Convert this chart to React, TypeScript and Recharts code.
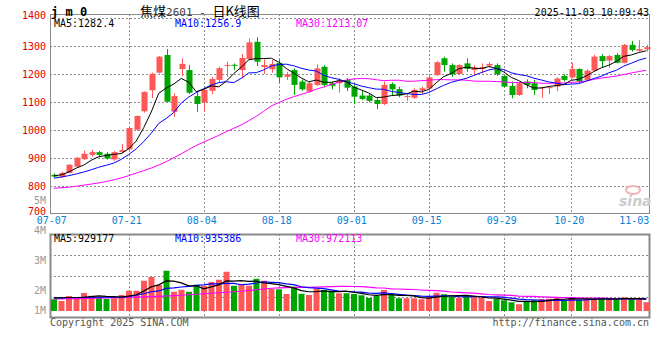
import { ComposedChart, Bar, Line, XAxis, YAxis, Cell } from 'recharts';

// 焦煤2601 daily K line, 2025-07-07 .. 2025-11-03

const dates = [
  '07-07', '07-08', '07-09', '07-10', '07-11', '07-14', '07-15', '07-16', '07-17', '07-18',
  '07-21', '07-22', '07-23', '07-24', '07-25', '07-28', '07-29', '07-30', '07-31', '08-01',
  '08-04', '08-05', '08-06', '08-07', '08-08', '08-11', '08-12', '08-13', '08-14', '08-15',
  '08-18', '08-19', '08-20', '08-21', '08-22', '08-25', '08-26', '08-27', '08-28', '08-29',
  '09-01', '09-02', '09-03', '09-04', '09-05', '09-08', '09-09', '09-10', '09-11', '09-12',
  '09-15', '09-16', '09-17', '09-18', '09-19', '09-22', '09-23', '09-24', '09-25', '09-26',
  '09-29', '09-30', '10-09', '10-10', '10-13', '10-14', '10-15', '10-16', '10-17', '10-20',
  '10-21', '10-22', '10-23', '10-24', '10-27', '10-28', '10-29', '10-30', '10-31', '11-03',
];

const open = [
  840, 833, 847, 869, 896, 911, 921, 915, 895, 921,
  931, 1001, 1067, 1142, 1205, 1268, 1065, 1218, 1214, 1121,
  1099, 1140, 1179, 1229, 1233, 1214, 1253, 1315, 1225, 1217,
  1240, 1190, 1214, 1173, 1137, 1161, 1226, 1167, 1167, 1179,
  1155, 1123, 1123, 1107, 1093, 1164, 1146, 1118, 1115, 1141,
  1148, 1196, 1256, 1232, 1200, 1238, 1214, 1218, 1230, 1232,
  1193, 1157, 1125, 1173, 1167, 1150, 1151, 1155, 1193, 1188,
  1218, 1179, 1212, 1264, 1248, 1268, 1240, 1304, 1283, 1288,
];

const high = [
  845, 851, 879, 903, 926, 929, 925, 921, 925, 950,
  1010, 1052, 1138, 1205, 1264, 1289, 1131, 1256, 1232, 1139,
  1147, 1190, 1226, 1244, 1238, 1271, 1327, 1331, 1252, 1250,
  1252, 1208, 1220, 1180, 1172, 1234, 1232, 1172, 1184, 1185,
  1163, 1139, 1131, 1113, 1173, 1170, 1155, 1133, 1149, 1155,
  1199, 1246, 1262, 1238, 1235, 1256, 1232, 1238, 1242, 1238,
  1196, 1173, 1170, 1181, 1179, 1155, 1155, 1188, 1199, 1240,
  1220, 1217, 1268, 1271, 1268, 1274, 1307, 1318, 1321, 1304,
];

const low = [
  831, 829, 845, 867, 893, 905, 902, 894, 890, 916,
  929, 998, 1062, 1114, 1202, 1100, 1047, 1193, 1128, 1065,
  1065, 1128, 1172, 1190, 1214, 1184, 1250, 1228, 1200, 1205,
  1169, 1178, 1125, 1140, 1133, 1157, 1152, 1145, 1133, 1139,
  1092, 1107, 1099, 1074, 1089, 1125, 1117, 1104, 1111, 1127,
  1145, 1193, 1208, 1190, 1196, 1208, 1196, 1202, 1223, 1193,
  1152, 1113, 1122, 1149, 1125, 1115, 1128, 1139, 1173, 1184,
  1167, 1176, 1208, 1222, 1222, 1238, 1238, 1280, 1280, 1280,
];

const close = [
  834, 847, 876, 901, 915, 921, 911, 898, 921, 928,
  1007, 1050, 1136, 1201, 1262, 1101, 1121, 1236, 1133, 1093,
  1143, 1182, 1221, 1232, 1230, 1257, 1313, 1244, 1232, 1236,
  1188, 1199, 1161, 1145, 1167, 1220, 1161, 1158, 1176, 1151,
  1119, 1111, 1104, 1093, 1161, 1145, 1123, 1121, 1143, 1149,
  1188, 1242, 1232, 1199, 1232, 1218, 1223, 1225, 1236, 1199,
  1155, 1125, 1167, 1161, 1143, 1153, 1153, 1184, 1179, 1218,
  1173, 1212, 1262, 1246, 1264, 1240, 1304, 1286, 1289, 1296,
];

const ma5 = [
  836, 840, 850, 864, 874.6, 892.0, 904.8, 909.2, 913.2, 915.8,
  933.0, 960.8, 1008.4, 1064.4, 1131.2, 1150.0, 1164.2, 1184.2, 1170.6, 1136.8,
  1145.2, 1157.4, 1154.4, 1174.2, 1201.6, 1224.4, 1250.6, 1255.2, 1255.2, 1256.4,
  1242.6, 1219.8, 1203.2, 1185.8, 1172.0, 1178.4, 1170.8, 1170.2, 1176.4, 1173.2,
  1153.0, 1143.0, 1132.2, 1115.6, 1117.6, 1122.8, 1125.2, 1128.6, 1138.6, 1136.2,
  1144.8, 1168.6, 1190.8, 1202.0, 1218.6, 1224.6, 1220.8, 1219.4, 1226.8, 1220.2,
  1207.6, 1188.0, 1176.4, 1161.4, 1150.2, 1149.8, 1155.4, 1158.8, 1162.4, 1177.4,
  1181.4, 1193.2, 1208.8, 1222.2, 1231.4, 1244.8, 1263.2, 1268.0, 1276.6, 1283.0,
];

const ma10 = [
  828, 832, 837, 843, 850, 858, 867, 874, 882, 895.2,
  912.5, 932.8, 958.8, 988.8, 1023.5, 1041.5, 1062.5, 1096.3, 1117.5, 1134.0,
  1147.6, 1160.8, 1169.3, 1172.4, 1169.2, 1184.8, 1204.0, 1204.8, 1214.7, 1229.0,
  1233.5, 1235.2, 1229.2, 1220.5, 1214.2, 1210.5, 1195.3, 1186.7, 1181.1, 1172.6,
  1165.7, 1156.9, 1151.2, 1146.0, 1145.4, 1137.9, 1134.1, 1130.4, 1127.1, 1126.9,
  1133.8, 1146.9, 1159.7, 1170.3, 1177.4, 1184.7, 1194.7, 1205.1, 1214.4, 1219.4,
  1216.1, 1204.4, 1197.9, 1194.1, 1185.2, 1178.7, 1171.7, 1167.6, 1161.9, 1163.8,
  1165.6, 1174.3, 1183.8, 1192.3, 1204.4, 1213.1, 1228.2, 1238.4, 1249.4, 1257.2,
];

const ma30 = [
  792, 794, 796, 799, 803, 807, 811, 816, 822, 829,
  837, 846, 855, 864, 875, 887, 901, 915, 930, 945,
  957, 969, 981, 994, 1006, 1018, 1033, 1049, 1067, 1086.1,
  1097.9, 1109.6, 1119.1, 1127.2, 1135.6, 1145.6, 1153.9, 1162.6, 1171.1, 1178.5,
  1182.3, 1184.3, 1183.2, 1179.6, 1176.3, 1177.7, 1177.8, 1174.0, 1174.3, 1176.2,
  1177.7, 1179.7, 1180.0, 1178.9, 1179.0, 1177.7, 1174.7, 1174.1, 1174.2, 1173.0,
  1171.9, 1169.4, 1169.6, 1170.1, 1169.3, 1167.1, 1166.8, 1167.7, 1167.8, 1170.0,
  1171.8, 1175.2, 1180.5, 1185.6, 1189.0, 1192.2, 1198.2, 1203.7, 1208.6, 1213.5,
];

// volume, millions of lots
const volume = [
  0.94, 0.80, 1.20, 1.12, 1.44, 1.22, 1.10, 0.96, 1.02, 1.28,
  1.62, 1.62, 2.42, 2.72, 2.08, 3.22, 1.54, 1.70, 1.54, 2.10,
  2.00, 2.32, 2.50, 3.14, 2.02, 2.16, 2.02, 2.58, 2.42, 1.76,
  1.74, 1.36, 1.94, 1.38, 1.28, 1.78, 1.68, 1.62, 1.42, 1.42,
  1.36, 1.26, 1.04, 1.20, 1.68, 1.34, 1.02, 1.02, 1.02, 0.94,
  1.14, 1.46, 1.34, 1.14, 1.06, 1.28, 1.10, 1.04, 0.80, 0.96,
  0.86, 0.70, 0.54, 0.80, 0.86, 0.96, 0.98, 1.02, 0.88, 1.10,
  0.88, 0.94, 0.96, 1.02, 0.94, 0.90, 1.10, 1.02, 1.02, 0.70,
];

const vma5 = [
  1.05, 1.05, 1.08, 1.08, 1.10, 1.156, 1.216, 1.168, 1.148, 1.116,
  1.196, 1.30, 1.592, 1.932, 2.092, 2.412, 2.396, 2.252, 2.016, 2.02,
  1.776, 1.932, 2.092, 2.412, 2.396, 2.428, 2.368, 2.384, 2.24, 2.188,
  2.104, 1.972, 1.844, 1.636, 1.54, 1.548, 1.612, 1.548, 1.556, 1.584,
  1.50, 1.416, 1.30, 1.256, 1.308, 1.304, 1.256, 1.252, 1.216, 1.068,
  1.028, 1.116, 1.18, 1.204, 1.228, 1.256, 1.184, 1.124, 1.056, 1.036,
  0.952, 0.872, 0.772, 0.772, 0.752, 0.772, 0.828, 0.924, 0.94, 0.988,
  0.972, 0.964, 0.952, 0.98, 0.948, 0.952, 0.984, 0.996, 0.996, 0.948,
];

const vma10 = [
  1.05, 1.06, 1.07, 1.08, 1.09, 1.10, 1.10, 1.10, 1.10, 1.108,
  1.176, 1.258, 1.38, 1.54, 1.604, 1.804, 1.848, 1.922, 1.974, 2.056,
  2.094, 2.164, 2.172, 2.214, 2.208, 2.102, 2.15, 2.238, 2.326, 2.292,
  2.266, 2.17, 2.114, 1.938, 1.864, 1.826, 1.792, 1.696, 1.596, 1.562,
  1.524, 1.514, 1.424, 1.406, 1.446, 1.402, 1.336, 1.276, 1.236, 1.188,
  1.166, 1.186, 1.216, 1.21, 1.148, 1.142, 1.15, 1.152, 1.13, 1.132,
  1.104, 1.028, 0.948, 0.914, 0.894, 0.862, 0.85, 0.848, 0.856, 0.87,
  0.872, 0.896, 0.938, 0.96, 0.968, 0.962, 0.974, 0.974, 0.988, 0.948,
];

const vma30 = [
  0.96, 0.97, 0.98, 0.99, 1.00, 1.01, 1.03, 1.04, 1.06, 1.07,
  1.09, 1.11, 1.13, 1.15, 1.17, 1.20, 1.23, 1.26, 1.30, 1.34,
  1.38, 1.42, 1.46, 1.50, 1.54, 1.58, 1.64, 1.70, 1.76, 1.819,
  1.845, 1.864, 1.889, 1.897, 1.892, 1.911, 1.93, 1.952, 1.965, 1.97,
  1.961, 1.949, 1.903, 1.853, 1.839, 1.777, 1.759, 1.737, 1.719, 1.681,
  1.652, 1.623, 1.585, 1.518, 1.486, 1.457, 1.426, 1.375, 1.321, 1.294,
  1.265, 1.243, 1.196, 1.177, 1.163, 1.135, 1.112, 1.092, 1.074, 1.063,
  1.047, 1.037, 1.034, 1.028, 1.003, 0.989, 0.991, 0.991, 0.991, 0.983,
];

const dateTicks = ['07-07', '07-21', '08-04', '08-18', '09-01', '09-15', '09-29', '10-20', '11-03'];
const gridDates = ['07-21', '08-04', '08-18', '09-01', '09-15', '09-29', '10-20'];
const priceTicks = [700, 800, 900, 1000, 1100, 1200, 1300, 1400];
const volumeGrid = [1.12, 2.8, 4.48];
const priceLegend = [
  { text: 'MA5:1282.4', color: '#000000' },
  { text: 'MA10:1256.9', color: '#0000ff' },
  { text: 'MA30:1213.07', color: '#ff00ff' },
];
const volumeLegend = [
  { text: 'MA5:929177', color: '#000000' },
  { text: 'MA10:935386', color: '#0000ff' },
  { text: 'MA30:972113', color: '#ff00ff' },
];
const volumeLabels = ['4M', '3M', '2M', '1M'];

const RED = '#ff5656';
const GREEN = '#00a600';
const GRID = '#8e8e8e';
const BORDER = '#8a8a8a';
const MONO = '"DejaVu Sans Mono", monospace';

// panel frames (page pixels) shared by the charts and the grid layer
const LEFT = 50;
const RIGHT = 650;
const P_TOP = 14;
const P_BOTTOM = 214;
const V_TOP = 234;
const V_BOTTOM = 318;
const PRICE_DOMAIN = [700, 1414.3];
const VOL_DOMAIN = [-0.56, 6.16];

const rows = dates.map((d, i) => ({
  d,
  o: open[i],
  h: high[i],
  l: low[i],
  c: close[i],
  range: [low[i], high[i]],
  ma5: ma5[i],
  ma10: ma10[i],
  ma30: ma30[i],
  v: volume[i],
  vma5: vma5[i],
  vma10: vma10[i],
  vma30: vma30[i],
}));

// band centre of a category, same as the band scale of the x axis
const bandX = (d: string) => LEFT + (dates.indexOf(d) + 0.5) * (RIGHT - LEFT) / dates.length;
const valY = (v: number, dom: number[], top: number, bottom: number) =>
  top + (dom[1] - v) / (dom[1] - dom[0]) * (bottom - top);
const crisp = (n: number) => Math.round(n) + 0.5;

function Candle(props: any) {
  const { x, y, width, height, payload } = props;
  if (x == null || y == null) return null;
  const { o, h, l, c } = payload;
  const top = Math.min(y, y + height);
  const bot = Math.max(y, y + height);
  const k = h > l ? (bot - top) / (h - l) : 0;
  const py = (v: number) => top + (h - v) * k;
  const color = c >= o ? RED : GREEN;
  const mid = Math.round(x + width / 2);
  const bTop = py(Math.max(o, c));
  const bBot = py(Math.min(o, c));
  return (
    <g>
      <line x1={mid + 0.5} x2={mid + 0.5} y1={top} y2={bot} stroke={color} strokeWidth={1} />
      <rect x={mid - 2.5} y={bTop} width={6} height={Math.max(1, bBot - bTop)} fill={color} />
    </g>
  );
}

function DateTick(props: any) {
  const { x, y, payload } = props;
  const last = payload.value === dateTicks[dateTicks.length - 1];
  return (
    <text x={last ? x + 3 : x - 2} y={y} dy="0.71em" textAnchor={last ? 'end' : 'middle'}
      fill="#0a80d2" fontSize={10} fontFamily={MONO}>
      {payload.value}
    </text>
  );
}

function PriceTick(props: any) {
  const { x, y, payload } = props;
  const edge = payload.value === 700 || payload.value === 1400;
  return (
    <text x={x} y={y} dy={edge ? '0.05em' : '0.355em'} textAnchor="end"
      fill="#e00000" fontSize={10} fontFamily={MONO}>
      {payload.value}
    </text>
  );
}

// dotted grid and panel frames, drawn behind the charts
function GridLayer() {
  const dots = { stroke: GRID, strokeWidth: 1, strokeDasharray: '2 2' };
  return (
    <svg width={660} height={360} style={{ position: 'absolute', left: 0, top: 0, pointerEvents: 'none' }}>
      {priceTicks.filter((t) => t > PRICE_DOMAIN[0]).map((t) => {
        const y = crisp(valY(t, PRICE_DOMAIN, P_TOP, P_BOTTOM));
        return <line key={'p' + t} x1={LEFT} x2={RIGHT} y1={y} y2={y} {...dots} />;
      })}
      {volumeGrid.map((t) => {
        const y = crisp(valY(t, VOL_DOMAIN, V_TOP, V_BOTTOM));
        return <line key={'v' + t} x1={LEFT} x2={RIGHT} y1={y} y2={y} {...dots} />;
      })}
      {gridDates.map((d) => {
        const x = crisp(bandX(d));
        return (
          <g key={d}>
            <line x1={x} x2={x} y1={P_TOP} y2={P_BOTTOM} {...dots} />
            <line x1={x} x2={x} y1={V_TOP} y2={V_BOTTOM} {...dots} />
          </g>
        );
      })}
      <rect x={LEFT + 0.5} y={P_TOP + 0.5} width={RIGHT - LEFT - 1} height={P_BOTTOM - P_TOP - 1}
        fill="none" stroke={BORDER} strokeWidth={1} />
      <rect x={LEFT + 0.5} y={V_TOP + 0.5} width={RIGHT - LEFT - 1} height={V_BOTTOM - V_TOP - 1}
        fill="none" stroke={BORDER} strokeWidth={2} />
    </svg>
  );
}

export default function App() {
  return (
    <div style={{ position: 'relative', width: 660, height: 360, background: '#fff' }}>
      <style>{'body{margin:0}'}</style>

      <GridLayer />

      <div style={{ position: 'absolute', left: 0, top: 0 }}>
        <ComposedChart width={660} height={P_BOTTOM + 18} data={rows}
          margin={{ top: P_TOP, right: 660 - RIGHT, bottom: 0, left: 0 }}>
          <XAxis dataKey="d" ticks={dateTicks} interval={0} height={18} tickSize={0} tickMargin={3}
            axisLine={false} tickLine={false} tick={<DateTick />} />
          <YAxis domain={PRICE_DOMAIN} ticks={priceTicks} width={LEFT} tickSize={0}
            tickMargin={4} axisLine={false} tickLine={false} tick={<PriceTick />} />
          <Bar dataKey="range" barSize={6} shape={<Candle />} isAnimationActive={false} />
          <Line type="linear" dataKey="ma30" stroke="#ff00ff" strokeWidth={1} dot={false} activeDot={false} isAnimationActive={false} />
          <Line type="linear" dataKey="ma10" stroke="#0000ff" strokeWidth={1} dot={false} activeDot={false} isAnimationActive={false} />
          <Line type="linear" dataKey="ma5" stroke="#000000" strokeWidth={1} dot={false} activeDot={false} isAnimationActive={false} />
        </ComposedChart>
      </div>

      <div style={{ position: 'absolute', left: 0, top: V_TOP - 8 }}>
        <ComposedChart width={660} height={V_BOTTOM - V_TOP + 8} data={rows}
          margin={{ top: 8, right: 660 - RIGHT, bottom: 0, left: LEFT }}>
          <XAxis dataKey="d" hide />
          <YAxis domain={VOL_DOMAIN} hide />
          <Bar dataKey="v" barSize={6} isAnimationActive={false}>
            {rows.map((r) => (
              <Cell key={r.d} fill={r.c >= r.o ? RED : GREEN} />
            ))}
          </Bar>
          <Line type="linear" dataKey="vma30" stroke="#ff00ff" strokeWidth={1.2} dot={false} activeDot={false} isAnimationActive={false} />
          <Line type="linear" dataKey="vma10" stroke="#0000ff" strokeWidth={1.2} dot={false} activeDot={false} isAnimationActive={false} />
          <Line type="linear" dataKey="vma5" stroke="#000000" strokeWidth={1.2} dot={false} activeDot={false} isAnimationActive={false} />
        </ComposedChart>
      </div>

      <svg width={660} height={360} style={{ position: 'absolute', left: 0, top: 0, pointerEvents: 'none' }}>
        <text x={51} y={16} fontFamily={MONO} fontWeight="bold" fontSize={12} fill="#000">j m 0</text>
        <text x={140} y={16} fontFamily='"Noto Sans CJK SC"' fontSize={13} fill="#000">
          焦煤<tspan fontFamily={MONO} fontSize={11} fill="#444">2601 - </tspan>日K线图
        </text>
        <text x={649} y={16} textAnchor="end" fontFamily={MONO} fontSize={10} fill="#000">2025-11-03 10:09:43</text>

        {priceLegend.map((t, i) => (
          <text key={t.text} x={54 + i * 121} y={27} fontFamily={MONO} fontSize={10} fill={t.color}>{t.text}</text>
        ))}
        {volumeLegend.map((t, i) => (
          <text key={t.text} x={54 + i * 121} y={242} fontFamily={MONO} fontSize={10} fill={t.color}>{t.text}</text>
        ))}

        <text x={46} y={204} textAnchor="end" fontFamily={MONO} fontSize={10} fill="#999">5M</text>
        {volumeLabels.map((t, i) => (
          <text key={t} x={46} y={[234, 263.5, 293.5, 313.5][i]} textAnchor="end" fontFamily={MONO} fontSize={10} fill="#999">{t}</text>
        ))}

        <ellipse cx={633} cy={190} rx={7} ry={4} fill="none" stroke="#f2b4b4" strokeWidth={2} />
        <text x={619} y={206} fontFamily='"DejaVu Sans"' fontStyle="italic" fontWeight="bold" fontSize={14} fill="#cccccc">sina</text>

        <text x={50} y={326} fontFamily={MONO} fontSize={10} fill="#555">Copyright 2025 SINA.COM</text>
        <text x={649} y={326} textAnchor="end" fontFamily={MONO} fontSize={10} fill="#555">http://finance.sina.com.cn</text>
      </svg>
    </div>
  );
}
